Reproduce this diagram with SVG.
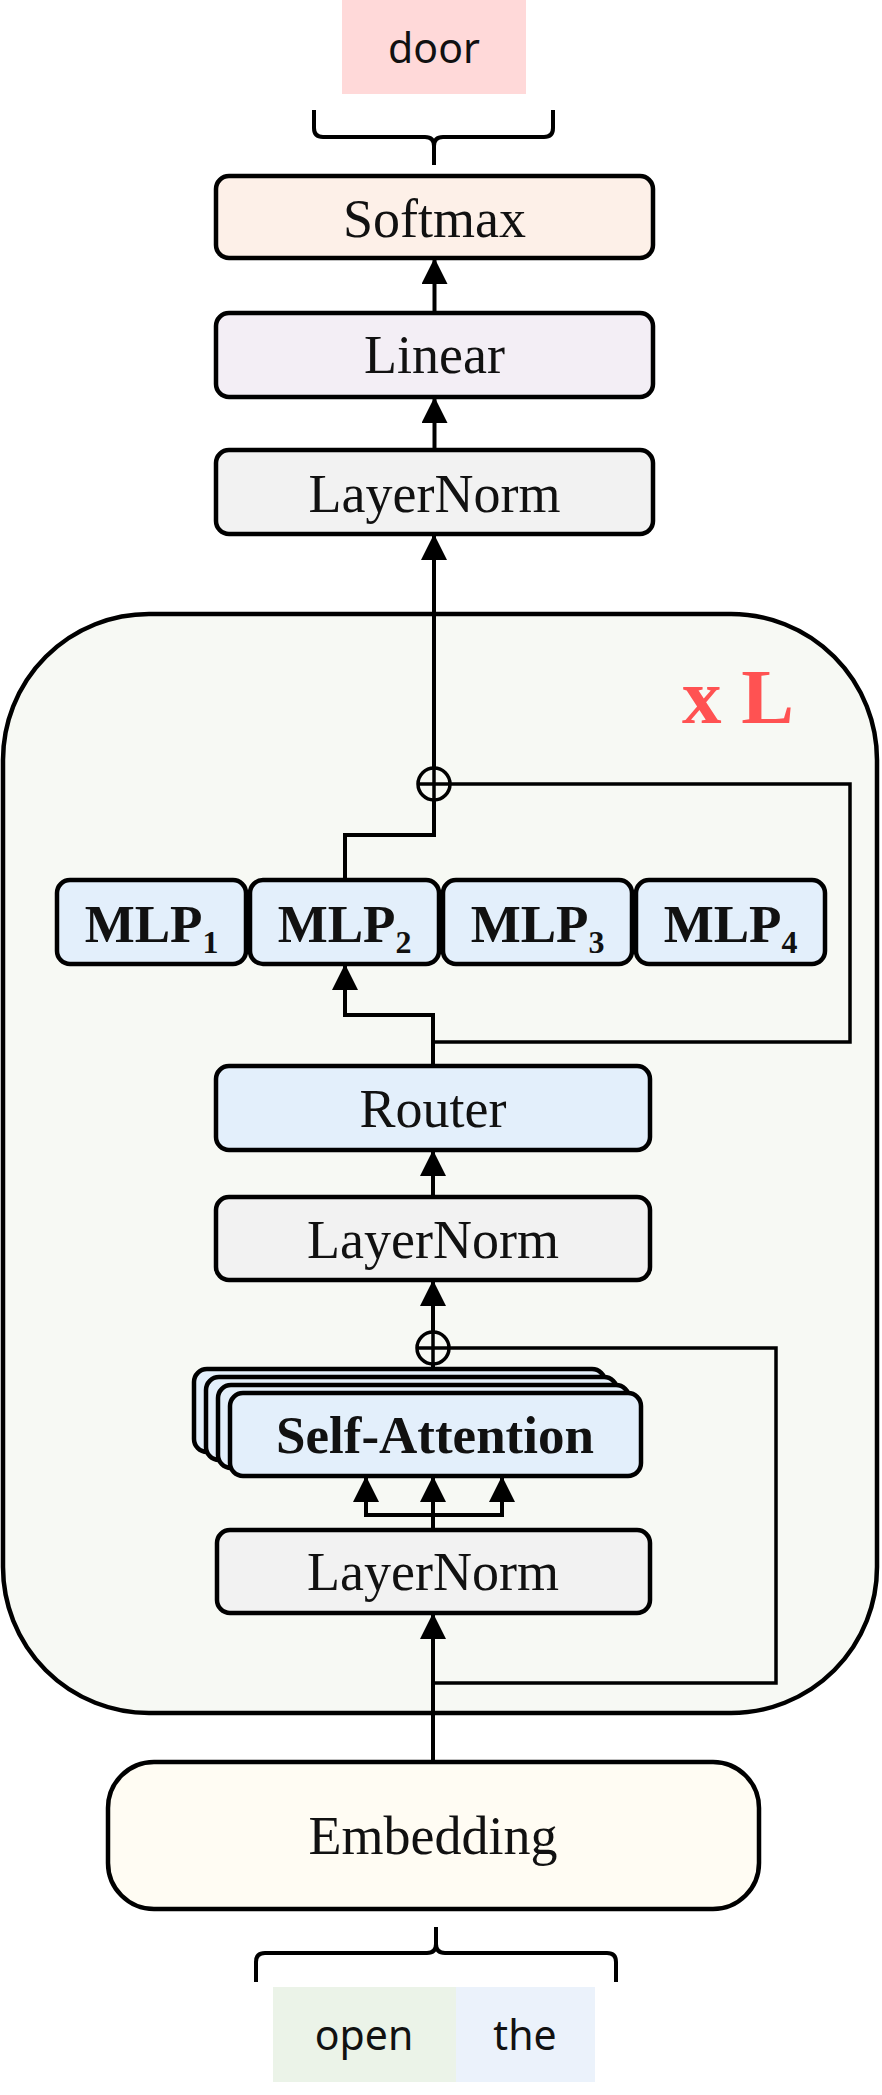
<svg xmlns="http://www.w3.org/2000/svg" width="882" height="2095" viewBox="0 0 882 2095">
<defs>
<style>
.box{stroke:#000;stroke-width:4.5;}
.ln{fill:#f2f2f2;}
.blue{fill:#e3effb;}
.t{font-family:"Liberation Serif","Times New Roman",serif;font-size:54px;fill:#111;text-anchor:middle;}
.tb{font-family:"Liberation Serif","Times New Roman",serif;font-size:53px;font-weight:bold;fill:#111;text-anchor:middle;}
.s{font-family:"Noto Sans","DejaVu Sans",sans-serif;font-size:41px;fill:#111;text-anchor:middle;}
.c{fill:none;stroke:#000;stroke-width:4;}
.a{fill:none;stroke:#000;stroke-width:4;marker-end:url(#arr);}
.r{fill:none;stroke:#000;stroke-width:3.5;}
</style>
<marker id="arr" viewBox="0 0 26 26" refX="26" refY="13" markerWidth="26" markerHeight="26" markerUnits="userSpaceOnUse" orient="auto">
<path d="M0,0 L26,13 L0,26 z" fill="#000"/>
</marker>
</defs>
<rect width="882" height="2095" fill="#fff"/>

<g id="block">
<rect x="3" y="614" width="874" height="1099" rx="146" ry="146" fill="#f7f9f4" stroke="#000" stroke-width="4.5"/>
<text x="682" y="723" font-family="Liberation Serif,serif" font-size="79" font-weight="bold" fill="#ff5252">x L</text>
</g>

<g id="door">
<rect x="342" y="0" width="184" height="94" fill="#ffd9d9"/>
<text class="s" x="434" y="63">door</text>
</g>
<g id="open">
<rect x="273" y="1987" width="183" height="95" fill="#ebf3e8"/>
<text class="s" x="364" y="2050">open</text>
</g>
<g id="the">
<rect x="456" y="1987" width="139" height="95" fill="#ebf2fb"/>
<text class="s" x="525" y="2050">the</text>
</g>

<g id="softmax">
<rect class="box" x="216" y="176" width="437" height="82" rx="13" fill="#fdf0e8"/>
<text class="t" x="434.5" y="237">Softmax</text>
</g>
<g id="linear">
<rect class="box" x="216" y="313" width="437" height="84" rx="13" fill="#f3eef5"/>
<text class="t" x="434.5" y="373">Linear</text>
</g>
<g id="layernorm_final">
<rect class="box ln" x="216" y="450" width="437" height="84" rx="13"/>
<text class="t" x="434.5" y="512">LayerNorm</text>
</g>

<g id="mlp1">
<rect class="box blue" x="57" y="880" width="189" height="84" rx="13"/>
<text class="tb" x="151.5" y="942">MLP<tspan font-size="32" dy="11">1</tspan></text>
</g>
<g id="mlp2">
<rect class="box blue" x="250" y="880" width="189" height="84" rx="13"/>
<text class="tb" x="344.5" y="942">MLP<tspan font-size="32" dy="11">2</tspan></text>
</g>
<g id="mlp3">
<rect class="box blue" x="443" y="880" width="189" height="84" rx="13"/>
<text class="tb" x="537.5" y="942">MLP<tspan font-size="32" dy="11">3</tspan></text>
</g>
<g id="mlp4">
<rect class="box blue" x="636" y="880" width="189" height="84" rx="13"/>
<text class="tb" x="730.5" y="942">MLP<tspan font-size="32" dy="11">4</tspan></text>
</g>

<g id="router">
<rect class="box blue" x="216" y="1066" width="434" height="84" rx="13"/>
<text class="t" x="433" y="1127">Router</text>
</g>
<g id="layernorm2">
<rect class="box ln" x="216" y="1197" width="434" height="83" rx="13"/>
<text class="t" x="433" y="1258">LayerNorm</text>
</g>
<g id="self_attention">
<rect class="box blue" x="194" y="1369" width="411" height="83" rx="13"/>
<rect class="box blue" x="206" y="1377" width="411" height="83" rx="13"/>
<rect class="box blue" x="218" y="1385" width="411" height="83" rx="13"/>
<rect class="box blue" x="230" y="1393" width="411" height="83" rx="13"/>
<text class="tb" x="435" y="1453" font-size="55">Self-Attention</text>
</g>
<g id="layernorm1">
<rect class="box ln" x="217" y="1530" width="433" height="83" rx="13"/>
<text class="t" x="433" y="1590">LayerNorm</text>
</g>
<g id="embedding">
<rect class="box" x="108" y="1762" width="651" height="147" rx="46" fill="#fffcf3"/>
<text class="t" x="433" y="1854">Embedding</text>
</g>

<g id="connectors">
<path class="c" d="M314,110 L314,128 Q314,137 323,137 L425,137 Q434,137 434,146 L434,165 M434,146 Q434,137 443,137 L544,137 Q553,137 553,128 L553,110"/>
<path class="c" d="M256,1982 L256,1962 Q256,1953 265,1953 L427,1953 Q436,1953 436,1944 L436,1927 M436,1944 Q436,1953 445,1953 L607,1953 Q616,1953 616,1962 L616,1982"/>
<path class="a" d="M434.5,313 L434.5,258"/>
<path class="a" d="M434.5,450 L434.5,397"/>
<path class="a" d="M434,767 L434,534"/>
<circle class="r" cx="434" cy="784" r="16"/>
<path class="r" d="M434,768 L434,800 M418,784 L450,784"/>
<path class="c" d="M434,800 L434,835 L345,835 L345,880"/>
<path class="r" d="M450,784 L850,784 L850,1042 L433,1042"/>
<path class="a" d="M433,1066 L433,1015 L345,1015 L345,964"/>
<path class="a" d="M433,1197 L433,1150"/>
<path class="a" d="M433,1332 L433,1280"/>
<circle class="r" cx="433" cy="1348" r="16"/>
<path class="r" d="M433,1332 L433,1364 M417,1348 L449,1348"/>
<path class="c" d="M433,1364 L433,1369"/>
<path class="r" d="M449,1348 L776,1348 L776,1683 L433,1683"/>
<path class="c" d="M433,1530 L433,1515"/>
<path class="c" d="M364,1515 L504,1515"/>
<path class="a" d="M366,1515 L366,1476"/>
<path class="a" d="M433,1515 L433,1476"/>
<path class="a" d="M502,1515 L502,1476"/>
<path class="a" d="M433,1762 L433,1613"/>
</g>
</svg>
